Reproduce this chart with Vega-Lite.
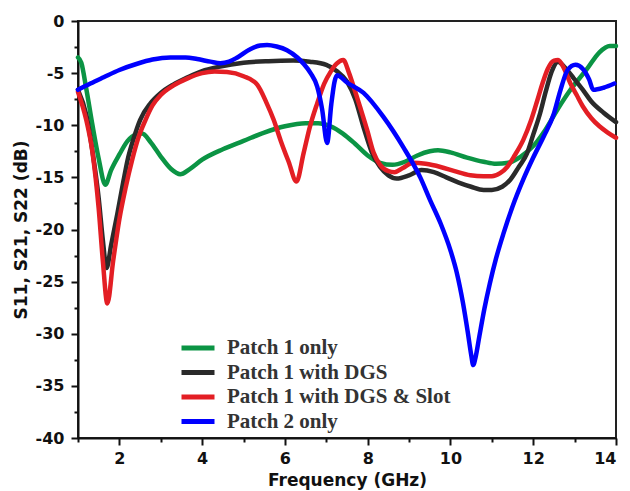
{
  "$schema": "https://vega.github.io/schema/vega-lite/v6.json",
  "width": 538,
  "height": 417,
  "autosize": {"type": "none"},
  "padding": {"left": 78, "top": 21, "right": 14, "bottom": 53},
  "config": {
    "view": {"stroke": "#222", "strokeWidth": 2},
    "axis": {"grid": false, "domainColor": "#111", "domainWidth": 2, "tickColor": "#111", "tickWidth": 2, "labelColor": "#111", "titleColor": "#111", "labelFont": "DejaVu Sans", "labelFontWeight": "bold", "labelFontSize": 16, "titleFont": "DejaVu Sans", "titleFontWeight": "bold", "titleFontSize": 17}
  },
  "data": {"values": [
    {"s": "Patch 1 only", "f": 1.0, "db": -3.5}, {"s": "Patch 1 only", "f": 1.08, "db": -4.0}, {"s": "Patch 1 only", "f": 1.2, "db": -6.5}, {"s": "Patch 1 only", "f": 1.35, "db": -10.0}, {"s": "Patch 1 only", "f": 1.5, "db": -13.2}, {"s": "Patch 1 only", "f": 1.66, "db": -15.7}, {"s": "Patch 1 only", "f": 1.8, "db": -14.3}, {"s": "Patch 1 only", "f": 2.0, "db": -12.8}, {"s": "Patch 1 only", "f": 2.2, "db": -11.5}, {"s": "Patch 1 only", "f": 2.4, "db": -10.9}, {"s": "Patch 1 only", "f": 2.55, "db": -10.8}, {"s": "Patch 1 only", "f": 2.75, "db": -11.6}, {"s": "Patch 1 only", "f": 3.0, "db": -13.0}, {"s": "Patch 1 only", "f": 3.25, "db": -14.2}, {"s": "Patch 1 only", "f": 3.47, "db": -14.7}, {"s": "Patch 1 only", "f": 3.7, "db": -14.2}, {"s": "Patch 1 only", "f": 4.0, "db": -13.3}, {"s": "Patch 1 only", "f": 4.5, "db": -12.3}, {"s": "Patch 1 only", "f": 5.0, "db": -11.5}, {"s": "Patch 1 only", "f": 5.5, "db": -10.7}, {"s": "Patch 1 only", "f": 6.0, "db": -10.1}, {"s": "Patch 1 only", "f": 6.5, "db": -9.8}, {"s": "Patch 1 only", "f": 6.8, "db": -9.8}, {"s": "Patch 1 only", "f": 7.1, "db": -10.1}, {"s": "Patch 1 only", "f": 7.4, "db": -10.8}, {"s": "Patch 1 only", "f": 7.7, "db": -11.8}, {"s": "Patch 1 only", "f": 8.0, "db": -12.9}, {"s": "Patch 1 only", "f": 8.3, "db": -13.6}, {"s": "Patch 1 only", "f": 8.6, "db": -13.8}, {"s": "Patch 1 only", "f": 8.9, "db": -13.5}, {"s": "Patch 1 only", "f": 9.2, "db": -12.9}, {"s": "Patch 1 only", "f": 9.5, "db": -12.5}, {"s": "Patch 1 only", "f": 9.7, "db": -12.4}, {"s": "Patch 1 only", "f": 10.0, "db": -12.6}, {"s": "Patch 1 only", "f": 10.4, "db": -13.1}, {"s": "Patch 1 only", "f": 10.8, "db": -13.5}, {"s": "Patch 1 only", "f": 11.1, "db": -13.7}, {"s": "Patch 1 only", "f": 11.4, "db": -13.6}, {"s": "Patch 1 only", "f": 11.7, "db": -13.0}, {"s": "Patch 1 only", "f": 12.0, "db": -12.0}, {"s": "Patch 1 only", "f": 12.3, "db": -10.4}, {"s": "Patch 1 only", "f": 12.6, "db": -8.4}, {"s": "Patch 1 only", "f": 12.9, "db": -6.6}, {"s": "Patch 1 only", "f": 13.3, "db": -4.6}, {"s": "Patch 1 only", "f": 13.6, "db": -3.0}, {"s": "Patch 1 only", "f": 13.85, "db": -2.4}, {"s": "Patch 1 only", "f": 14.0, "db": -2.4},

    {"s": "Patch 1 with DGS", "f": 1.0, "db": -6.6}, {"s": "Patch 1 with DGS", "f": 1.2, "db": -9.0}, {"s": "Patch 1 with DGS", "f": 1.35, "db": -12.5}, {"s": "Patch 1 with DGS", "f": 1.5, "db": -17.0}, {"s": "Patch 1 with DGS", "f": 1.6, "db": -21.0}, {"s": "Patch 1 with DGS", "f": 1.69, "db": -23.7}, {"s": "Patch 1 with DGS", "f": 1.8, "db": -21.5}, {"s": "Patch 1 with DGS", "f": 1.95, "db": -18.5}, {"s": "Patch 1 with DGS", "f": 2.1, "db": -15.3}, {"s": "Patch 1 with DGS", "f": 2.2, "db": -13.3}, {"s": "Patch 1 with DGS", "f": 2.35, "db": -11.2}, {"s": "Patch 1 with DGS", "f": 2.5, "db": -9.5}, {"s": "Patch 1 with DGS", "f": 2.75, "db": -7.9}, {"s": "Patch 1 with DGS", "f": 3.0, "db": -6.9}, {"s": "Patch 1 with DGS", "f": 3.3, "db": -6.1}, {"s": "Patch 1 with DGS", "f": 3.65, "db": -5.4}, {"s": "Patch 1 with DGS", "f": 4.0, "db": -4.8}, {"s": "Patch 1 with DGS", "f": 4.4, "db": -4.4}, {"s": "Patch 1 with DGS", "f": 5.0, "db": -4.0}, {"s": "Patch 1 with DGS", "f": 5.6, "db": -3.85}, {"s": "Patch 1 with DGS", "f": 6.2, "db": -3.8}, {"s": "Patch 1 with DGS", "f": 6.6, "db": -3.9}, {"s": "Patch 1 with DGS", "f": 7.0, "db": -4.2}, {"s": "Patch 1 with DGS", "f": 7.25, "db": -4.8}, {"s": "Patch 1 with DGS", "f": 7.5, "db": -5.8}, {"s": "Patch 1 with DGS", "f": 7.7, "db": -7.5}, {"s": "Patch 1 with DGS", "f": 7.9, "db": -10.2}, {"s": "Patch 1 with DGS", "f": 8.1, "db": -12.6}, {"s": "Patch 1 with DGS", "f": 8.3, "db": -14.0}, {"s": "Patch 1 with DGS", "f": 8.5, "db": -14.8}, {"s": "Patch 1 with DGS", "f": 8.7, "db": -15.1}, {"s": "Patch 1 with DGS", "f": 9.0, "db": -14.8}, {"s": "Patch 1 with DGS", "f": 9.3, "db": -14.3}, {"s": "Patch 1 with DGS", "f": 9.6, "db": -14.5}, {"s": "Patch 1 with DGS", "f": 9.9, "db": -15.0}, {"s": "Patch 1 with DGS", "f": 10.2, "db": -15.5}, {"s": "Patch 1 with DGS", "f": 10.5, "db": -15.9}, {"s": "Patch 1 with DGS", "f": 10.8, "db": -16.2}, {"s": "Patch 1 with DGS", "f": 11.0, "db": -16.2}, {"s": "Patch 1 with DGS", "f": 11.25, "db": -15.9}, {"s": "Patch 1 with DGS", "f": 11.45, "db": -15.2}, {"s": "Patch 1 with DGS", "f": 11.65, "db": -14.0}, {"s": "Patch 1 with DGS", "f": 11.85, "db": -12.7}, {"s": "Patch 1 with DGS", "f": 12.0, "db": -10.9}, {"s": "Patch 1 with DGS", "f": 12.17, "db": -8.8}, {"s": "Patch 1 with DGS", "f": 12.3, "db": -6.8}, {"s": "Patch 1 with DGS", "f": 12.45, "db": -4.8}, {"s": "Patch 1 with DGS", "f": 12.6, "db": -3.9}, {"s": "Patch 1 with DGS", "f": 12.75, "db": -4.4}, {"s": "Patch 1 with DGS", "f": 12.96, "db": -5.4}, {"s": "Patch 1 with DGS", "f": 13.2, "db": -6.6}, {"s": "Patch 1 with DGS", "f": 13.4, "db": -7.7}, {"s": "Patch 1 with DGS", "f": 13.7, "db": -8.8}, {"s": "Patch 1 with DGS", "f": 14.0, "db": -9.7},

    {"s": "Patch 1 with DGS & Slot", "f": 1.0, "db": -6.8}, {"s": "Patch 1 with DGS & Slot", "f": 1.2, "db": -9.5}, {"s": "Patch 1 with DGS & Slot", "f": 1.35, "db": -12.6}, {"s": "Patch 1 with DGS & Slot", "f": 1.5, "db": -18.0}, {"s": "Patch 1 with DGS & Slot", "f": 1.6, "db": -23.0}, {"s": "Patch 1 with DGS & Slot", "f": 1.71, "db": -27.1}, {"s": "Patch 1 with DGS & Slot", "f": 1.85, "db": -23.0}, {"s": "Patch 1 with DGS & Slot", "f": 2.0, "db": -19.0}, {"s": "Patch 1 with DGS & Slot", "f": 2.15, "db": -16.0}, {"s": "Patch 1 with DGS & Slot", "f": 2.31, "db": -13.3}, {"s": "Patch 1 with DGS & Slot", "f": 2.45, "db": -11.3}, {"s": "Patch 1 with DGS & Slot", "f": 2.63, "db": -9.5}, {"s": "Patch 1 with DGS & Slot", "f": 2.8, "db": -8.1}, {"s": "Patch 1 with DGS & Slot", "f": 3.0, "db": -7.1}, {"s": "Patch 1 with DGS & Slot", "f": 3.3, "db": -6.2}, {"s": "Patch 1 with DGS & Slot", "f": 3.65, "db": -5.5}, {"s": "Patch 1 with DGS & Slot", "f": 4.0, "db": -5.0}, {"s": "Patch 1 with DGS & Slot", "f": 4.3, "db": -4.85}, {"s": "Patch 1 with DGS & Slot", "f": 4.6, "db": -4.9}, {"s": "Patch 1 with DGS & Slot", "f": 5.0, "db": -5.3}, {"s": "Patch 1 with DGS & Slot", "f": 5.33, "db": -6.1}, {"s": "Patch 1 with DGS & Slot", "f": 5.55, "db": -7.8}, {"s": "Patch 1 with DGS & Slot", "f": 5.73, "db": -9.5}, {"s": "Patch 1 with DGS & Slot", "f": 5.9, "db": -11.5}, {"s": "Patch 1 with DGS & Slot", "f": 6.09, "db": -13.5}, {"s": "Patch 1 with DGS & Slot", "f": 6.28, "db": -15.4}, {"s": "Patch 1 with DGS & Slot", "f": 6.45, "db": -12.7}, {"s": "Patch 1 with DGS & Slot", "f": 6.6, "db": -10.2}, {"s": "Patch 1 with DGS & Slot", "f": 6.78, "db": -7.9}, {"s": "Patch 1 with DGS & Slot", "f": 6.95, "db": -6.0}, {"s": "Patch 1 with DGS & Slot", "f": 7.1, "db": -4.9}, {"s": "Patch 1 with DGS & Slot", "f": 7.25, "db": -4.1}, {"s": "Patch 1 with DGS & Slot", "f": 7.41, "db": -3.75}, {"s": "Patch 1 with DGS & Slot", "f": 7.55, "db": -5.0}, {"s": "Patch 1 with DGS & Slot", "f": 7.66, "db": -6.3}, {"s": "Patch 1 with DGS & Slot", "f": 7.82, "db": -8.3}, {"s": "Patch 1 with DGS & Slot", "f": 7.99, "db": -10.5}, {"s": "Patch 1 with DGS & Slot", "f": 8.14, "db": -12.6}, {"s": "Patch 1 with DGS & Slot", "f": 8.3, "db": -13.8}, {"s": "Patch 1 with DGS & Slot", "f": 8.5, "db": -14.4}, {"s": "Patch 1 with DGS & Slot", "f": 8.65, "db": -14.5}, {"s": "Patch 1 with DGS & Slot", "f": 8.85, "db": -14.1}, {"s": "Patch 1 with DGS & Slot", "f": 9.1, "db": -13.6}, {"s": "Patch 1 with DGS & Slot", "f": 9.4, "db": -13.7}, {"s": "Patch 1 with DGS & Slot", "f": 9.76, "db": -14.0}, {"s": "Patch 1 with DGS & Slot", "f": 10.1, "db": -14.4}, {"s": "Patch 1 with DGS & Slot", "f": 10.48, "db": -14.8}, {"s": "Patch 1 with DGS & Slot", "f": 10.8, "db": -14.9}, {"s": "Patch 1 with DGS & Slot", "f": 11.0, "db": -14.9}, {"s": "Patch 1 with DGS & Slot", "f": 11.2, "db": -14.6}, {"s": "Patch 1 with DGS & Slot", "f": 11.37, "db": -14.0}, {"s": "Patch 1 with DGS & Slot", "f": 11.55, "db": -12.9}, {"s": "Patch 1 with DGS & Slot", "f": 11.76, "db": -11.4}, {"s": "Patch 1 with DGS & Slot", "f": 11.95, "db": -9.5}, {"s": "Patch 1 with DGS & Slot", "f": 12.1, "db": -7.6}, {"s": "Patch 1 with DGS & Slot", "f": 12.23, "db": -5.9}, {"s": "Patch 1 with DGS & Slot", "f": 12.35, "db": -4.6}, {"s": "Patch 1 with DGS & Slot", "f": 12.5, "db": -3.8}, {"s": "Patch 1 with DGS & Slot", "f": 12.6, "db": -3.75}, {"s": "Patch 1 with DGS & Slot", "f": 12.75, "db": -4.6}, {"s": "Patch 1 with DGS & Slot", "f": 12.9, "db": -6.0}, {"s": "Patch 1 with DGS & Slot", "f": 13.05, "db": -7.1}, {"s": "Patch 1 with DGS & Slot", "f": 13.2, "db": -8.2}, {"s": "Patch 1 with DGS & Slot", "f": 13.4, "db": -9.3}, {"s": "Patch 1 with DGS & Slot", "f": 13.6, "db": -10.1}, {"s": "Patch 1 with DGS & Slot", "f": 13.8, "db": -10.7}, {"s": "Patch 1 with DGS & Slot", "f": 14.0, "db": -11.2},

    {"s": "Patch 2 only", "f": 1.0, "db": -6.6}, {"s": "Patch 2 only", "f": 1.3, "db": -6.0}, {"s": "Patch 2 only", "f": 1.62, "db": -5.4}, {"s": "Patch 2 only", "f": 2.0, "db": -4.7}, {"s": "Patch 2 only", "f": 2.43, "db": -4.1}, {"s": "Patch 2 only", "f": 2.8, "db": -3.7}, {"s": "Patch 2 only", "f": 3.23, "db": -3.5}, {"s": "Patch 2 only", "f": 3.6, "db": -3.5}, {"s": "Patch 2 only", "f": 3.88, "db": -3.65}, {"s": "Patch 2 only", "f": 4.2, "db": -3.9}, {"s": "Patch 2 only", "f": 4.44, "db": -4.05}, {"s": "Patch 2 only", "f": 4.65, "db": -3.9}, {"s": "Patch 2 only", "f": 4.85, "db": -3.5}, {"s": "Patch 2 only", "f": 5.16, "db": -2.7}, {"s": "Patch 2 only", "f": 5.4, "db": -2.35}, {"s": "Patch 2 only", "f": 5.57, "db": -2.3}, {"s": "Patch 2 only", "f": 5.8, "db": -2.45}, {"s": "Patch 2 only", "f": 6.05, "db": -2.8}, {"s": "Patch 2 only", "f": 6.3, "db": -3.5}, {"s": "Patch 2 only", "f": 6.45, "db": -4.1}, {"s": "Patch 2 only", "f": 6.62, "db": -5.0}, {"s": "Patch 2 only", "f": 6.78, "db": -6.3}, {"s": "Patch 2 only", "f": 6.9, "db": -8.5}, {"s": "Patch 2 only", "f": 7.02, "db": -11.7}, {"s": "Patch 2 only", "f": 7.12, "db": -8.0}, {"s": "Patch 2 only", "f": 7.2, "db": -5.8}, {"s": "Patch 2 only", "f": 7.26, "db": -5.2}, {"s": "Patch 2 only", "f": 7.5, "db": -5.9}, {"s": "Patch 2 only", "f": 7.9, "db": -6.9}, {"s": "Patch 2 only", "f": 8.38, "db": -9.2}, {"s": "Patch 2 only", "f": 8.86, "db": -12.1}, {"s": "Patch 2 only", "f": 9.27, "db": -15.0}, {"s": "Patch 2 only", "f": 9.51, "db": -17.2}, {"s": "Patch 2 only", "f": 9.76, "db": -19.4}, {"s": "Patch 2 only", "f": 10.0, "db": -22.0}, {"s": "Patch 2 only", "f": 10.15, "db": -24.1}, {"s": "Patch 2 only", "f": 10.3, "db": -27.0}, {"s": "Patch 2 only", "f": 10.42, "db": -29.9}, {"s": "Patch 2 only", "f": 10.5, "db": -32.0}, {"s": "Patch 2 only", "f": 10.55, "db": -33.0}, {"s": "Patch 2 only", "f": 10.61, "db": -32.2}, {"s": "Patch 2 only", "f": 10.7, "db": -30.2}, {"s": "Patch 2 only", "f": 10.82, "db": -27.6}, {"s": "Patch 2 only", "f": 10.95, "db": -25.2}, {"s": "Patch 2 only", "f": 11.1, "db": -22.8}, {"s": "Patch 2 only", "f": 11.28, "db": -20.4}, {"s": "Patch 2 only", "f": 11.5, "db": -17.8}, {"s": "Patch 2 only", "f": 11.76, "db": -15.2}, {"s": "Patch 2 only", "f": 12.0, "db": -13.1}, {"s": "Patch 2 only", "f": 12.25, "db": -11.1}, {"s": "Patch 2 only", "f": 12.49, "db": -9.0}, {"s": "Patch 2 only", "f": 12.66, "db": -6.6}, {"s": "Patch 2 only", "f": 12.83, "db": -4.7}, {"s": "Patch 2 only", "f": 13.02, "db": -4.2}, {"s": "Patch 2 only", "f": 13.2, "db": -4.6}, {"s": "Patch 2 only", "f": 13.35, "db": -5.6}, {"s": "Patch 2 only", "f": 13.45, "db": -6.6}, {"s": "Patch 2 only", "f": 13.7, "db": -6.4}, {"s": "Patch 2 only", "f": 13.96, "db": -6.0}
  ]},
  "mark": {"type": "line", "interpolate": "monotone", "strokeWidth": 4.5, "strokeJoin": "round", "strokeCap": "round"},
  "encoding": {
    "x": {"field": "f", "type": "quantitative", "scale": {"domain": [1, 14], "nice": false},
      "axis": {"orient": "bottom", "values": [1, 2, 3, 4, 5, 6, 7, 8, 9, 10, 11, 12, 13, 14],
        "labelExpr": "datum.value % 2 === 0 ? datum.label : ''",
        "tickSize": {"condition": {"test": "datum.value % 2 === 0", "value": 7}, "value": 4},
        "labelPadding": 5, "title": "Frequency (GHz)", "titlePadding": 6}},
    "y": {"field": "db", "type": "quantitative", "scale": {"domain": [-40, 0], "nice": false},
      "axis": {"orient": "left", "values": [0, -2.5, -5, -7.5, -10, -12.5, -15, -17.5, -20, -22.5, -25, -27.5, -30, -32.5, -35, -37.5, -40],
        "labelExpr": "datum.value % 5 === 0 ? '' + datum.value : ''",
        "tickSize": {"condition": {"test": "datum.value % 5 === 0", "value": 7}, "value": 4},
        "labelPadding": 7, "title": "S11, S21, S22 (dB)", "titlePadding": 5}},
    "color": {"field": "s", "type": "nominal",
      "scale": {"domain": ["Patch 1 only", "Patch 1 with DGS", "Patch 1 with DGS & Slot", "Patch 2 only"], "range": ["#0b9444", "#2a2a2a", "#e31e24", "#0000ff"]},
      "legend": {"orient": "none", "legendX": 101, "legendY": 317, "direction": "vertical", "title": null, "symbolType": "stroke", "symbolStrokeWidth": 5, "symbolSize": 1089, "clipHeight": 20, "rowPadding": 3.5, "labelOffset": 10, "labelFont": "Liberation Serif", "labelFontWeight": "bold", "labelFontSize": 21, "labelColor": "#333", "labelLimit": 400, "padding": 0}
    }
  }
}
